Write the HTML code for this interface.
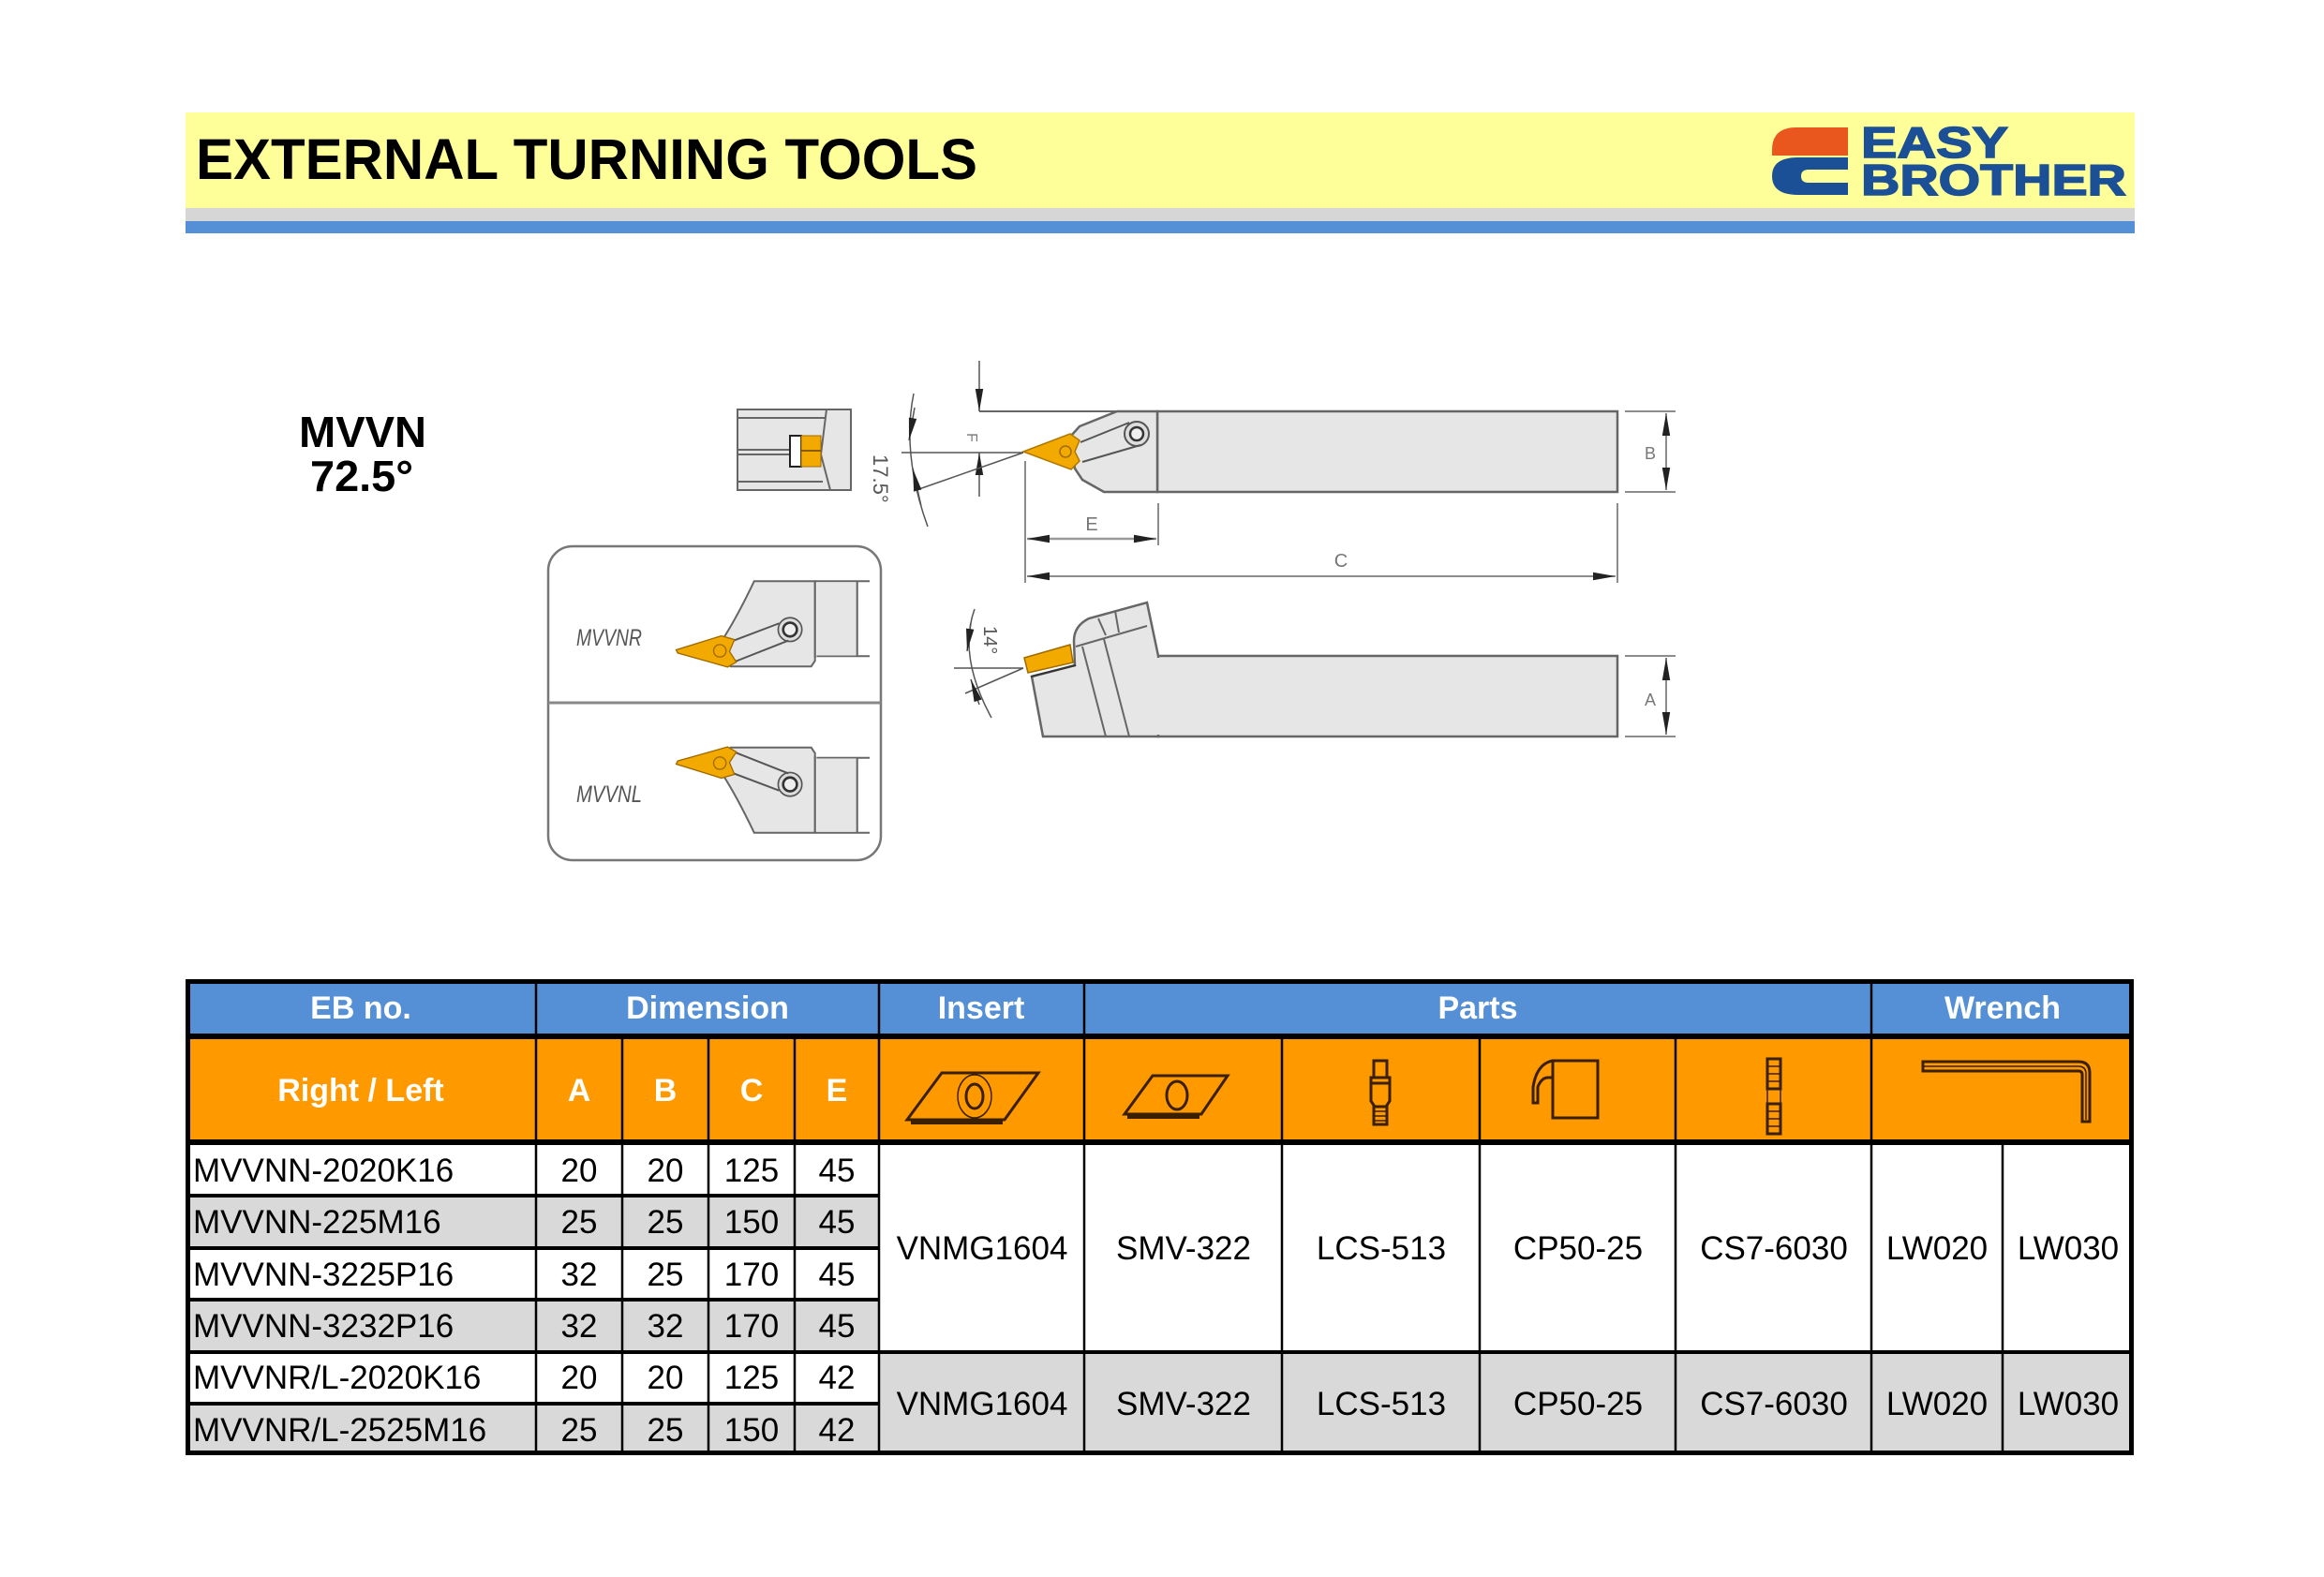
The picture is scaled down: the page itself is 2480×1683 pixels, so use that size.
<!DOCTYPE html>
<html><head><meta charset="utf-8"><style>
html,body{margin:0;padding:0;background:#fff}
svg{display:block}
text{font-family:"Liberation Sans",Arial,sans-serif}
</style></head><body>
<svg width="2480" height="1683" viewBox="0 0 2480 1683" xmlns="http://www.w3.org/2000/svg">
<defs>
<marker id="arL" viewBox="0 0 20 10" refX="20" refY="5" markerWidth="26" markerHeight="12" orient="auto-start-reverse" markerUnits="userSpaceOnUse"><path d="M0,1.5 L20,5 L0,8.5 Z" fill="#222"/></marker>
</defs>

<!-- Header -->
<rect x="198" y="120" width="2080" height="102" fill="#ffff99"/>
<rect x="198" y="222" width="2080" height="14" fill="#d6d6d6"/>
<rect x="198" y="236" width="2080" height="13" fill="#5590d6"/>
<text x="209" y="191" font-size="61" font-weight="bold" fill="#000" textLength="834" lengthAdjust="spacingAndGlyphs">EXTERNAL TURNING TOOLS</text>

<!-- Logo -->
<g transform="translate(-5,0)">
<path d="M1977,136 H1922 Q1896,136 1896,160 V166 H1977 Z" fill="#e9561e"/>
<path d="M1977,168 H1924 Q1896,168 1896,188 Q1896,208 1924,208 H1977 V195 H1935 Q1927,195 1927,188 Q1927,181 1935,181 H1977 Z" fill="#1b4f96"/>
<text x="1991" y="168" font-size="46" font-weight="bold" fill="#1b4f96" stroke="#1b4f96" stroke-width="1.5" textLength="157" lengthAdjust="spacingAndGlyphs">EASY</text>
<text x="1991" y="208" font-size="46" font-weight="bold" fill="#1b4f96" stroke="#1b4f96" stroke-width="1.5" textLength="283" lengthAdjust="spacingAndGlyphs">BROTHER</text>
</g>

<!-- MVVN label -->
<text x="387" y="477" font-size="46" font-weight="bold" text-anchor="middle" textLength="136" lengthAdjust="spacingAndGlyphs">MVVN</text>
<text x="386" y="524" font-size="46" font-weight="bold" text-anchor="middle" textLength="110" lengthAdjust="spacingAndGlyphs">72.5°</text>

<!-- End view -->
<g stroke="#666" stroke-width="2" fill="#e6e6e6">
<rect x="787" y="437" width="121" height="86"/>
<line x1="787" y1="446" x2="880" y2="446"/>
<line x1="787" y1="480" x2="843" y2="480"/>
<line x1="787" y1="485" x2="843" y2="485"/>
<line x1="787" y1="514" x2="878" y2="514"/>
<path d="M882,437 L876,485 L886,523" fill="none"/>
</g>
<rect x="843" y="465" width="12" height="33" fill="#fff" stroke="#222" stroke-width="2"/>
<rect x="855" y="465" width="21" height="33" fill="#f2a900" stroke="#a06a00" stroke-width="1"/>
<line x1="855" y1="481" x2="876" y2="481" stroke="#8a5a00" stroke-width="2"/>

<!-- Top tool -->
<g stroke="#666" stroke-width="2.5" fill="#e6e6e6">
<rect x="1235" y="439" width="491" height="86"/>
<path d="M1235,439 H1192 L1152,455 L1143,465 L1147,500 L1155,512 L1178,525 H1235 Z"/>
</g>
<line x1="1045" y1="439" x2="1235" y2="439" stroke="#666" stroke-width="2"/>
<circle cx="1213" cy="463" r="13" fill="#ddd" stroke="#555" stroke-width="2"/>
<circle cx="1213" cy="463" r="7" fill="#eee" stroke="#333" stroke-width="2.5"/>
<path d="M1153,472 L1205,451 M1155,493 L1217,475" stroke="#555" stroke-width="2" fill="none"/>
<path d="M1092,482 L1142,463 L1152,470 L1147,482 L1152,492 L1143,501 Z" fill="#f2a900" stroke="#b07800" stroke-width="1.5"/>
<circle cx="1137" cy="482" r="6" fill="none" stroke="#a06a00" stroke-width="1.5"/>

<!-- F dim -->
<g stroke="#555" stroke-width="1.5" fill="none">
<line x1="1045" y1="385" x2="1045" y2="439" marker-end="url(#arL)"/>
<line x1="1045" y1="530" x2="1045" y2="483" marker-end="url(#arL)"/>
<line x1="962" y1="483" x2="1092" y2="483"/>
<line x1="1092" y1="483" x2="975" y2="524"/>
<path d="M975,420 Q962,485 990,562"/>
<line x1="976" y1="435" x2="970" y2="470" marker-end="url(#arL)"/>
<line x1="974" y1="500" x2="983" y2="540" marker-start="url(#arL)"/>
</g>
<text x="1040" y="470" font-size="16" fill="#777" transform="rotate(90 1040 462)">F</text>
<text x="0" y="0" font-size="22" fill="#555" transform="translate(932,485) rotate(90)">17.5°</text>

<!-- E and C dims -->
<g stroke="#666" stroke-width="1.5" fill="none">
<line x1="1094" y1="492" x2="1094" y2="622"/>
<line x1="1236" y1="537" x2="1236" y2="582"/>
<line x1="1726" y1="537" x2="1726" y2="622"/>
<line x1="1096" y1="575" x2="1234" y2="575" marker-start="url(#arL)" marker-end="url(#arL)" stroke="#999" stroke-width="2.5"/>
<line x1="1096" y1="615" x2="1724" y2="615" marker-start="url(#arL)" marker-end="url(#arL)"/>
<line x1="1734" y1="439" x2="1788" y2="439"/>
<line x1="1734" y1="525" x2="1788" y2="525"/>
<line x1="1778" y1="441" x2="1778" y2="523" marker-start="url(#arL)" marker-end="url(#arL)"/>
<line x1="1734" y1="700" x2="1788" y2="700"/>
<line x1="1734" y1="786" x2="1788" y2="786"/>
<line x1="1778" y1="702" x2="1778" y2="784" marker-start="url(#arL)" marker-end="url(#arL)"/>
</g>
<text x="1165" y="566" font-size="20" fill="#777" text-anchor="middle">E</text>
<text x="1431" y="605" font-size="20" fill="#777" text-anchor="middle">C</text>
<text x="1761" y="490" font-size="18" fill="#777" text-anchor="middle">B</text>
<text x="1761" y="753" font-size="18" fill="#777" text-anchor="middle">A</text>

<!-- Bottom tool -->
<g stroke="#666" stroke-width="2.5" fill="#e6e6e6">
<rect x="1235" y="700" width="491" height="86"/>
<path d="M1113,786 H1236 V700 L1224,643 L1162,660 Q1146,668 1146,684 L1147,710 L1101,722 Z"/>
</g>
<rect x="1230" y="702" width="10" height="82" fill="#e6e6e6"/>
<g stroke="#666" stroke-width="2" fill="none">
<line x1="1155" y1="690" x2="1180" y2="786"/>
<line x1="1178" y1="682" x2="1205" y2="786"/>
<line x1="1148" y1="690" x2="1224" y2="668"/>
<line x1="1172" y1="660" x2="1180" y2="678"/>
<line x1="1190" y1="652" x2="1194" y2="675"/>
<line x1="1100" y1="722" x2="1148" y2="710" stroke="#333"/>
</g>
<path d="M1093,702 L1142,688 L1145,707 L1097,718 Z" fill="#f2a900" stroke="#a06a00" stroke-width="1.5"/>
<g stroke="#555" stroke-width="1.5" fill="none">
<line x1="1018" y1="713" x2="1092" y2="713"/>
<line x1="1092" y1="713" x2="1030" y2="740"/>
<path d="M1040,650 Q1022,700 1058,766"/>
<line x1="1036" y1="665" x2="1032" y2="695" marker-end="url(#arL)"/>
<line x1="1036" y1="725" x2="1045" y2="752" marker-start="url(#arL)"/>
</g>
<text x="0" y="0" font-size="20" fill="#555" transform="translate(1050,668) rotate(90)">14°</text>

<!-- Rounded box with R/L -->
<rect x="585" y="583" width="355" height="335" rx="26" fill="#fff" stroke="#777" stroke-width="2.5"/>
<line x1="585" y1="750" x2="940" y2="750" stroke="#888" stroke-width="3"/>
<g transform="translate(580,582) scale(0.333)">
 <g id="rtool">
  <path d="M675,115 H870 V370 L858,388 H600 L580,370 L575,300 Q620,230 675,115 Z" fill="#e6e6e6" stroke="#666" stroke-width="6"/>
  <path d="M870,115 H1045 M1045,355 H875 M870,115 V360 M1005,115 V355" stroke="#666" stroke-width="6" fill="none"/>
  <rect x="875" y="118" width="130" height="235" fill="#e6e6e6"/>
  <line x1="1005" y1="115" x2="1005" y2="355" stroke="#666" stroke-width="6"/>
  <circle cx="790" cy="270" r="38" fill="#ddd" stroke="#555" stroke-width="5"/>
  <circle cx="790" cy="270" r="22" fill="#eee" stroke="#333" stroke-width="8"/>
  <path d="M610,305 L755,250 M615,372 L785,305" stroke="#555" stroke-width="6" fill="none"/>
  <path d="M425,335 L570,290 L612,302 L596,340 L618,374 L590,390 L430,345 Z" fill="#f2a900" stroke="#a06a00" stroke-width="4"/>
  <circle cx="565" cy="338" r="20" fill="none" stroke="#a06a00" stroke-width="4"/>
 </g>
 <use href="#rtool" transform="translate(0,1036) scale(1,-1)"/>
</g>
<text x="615" y="689" font-size="25" font-style="italic" fill="#555" textLength="70" lengthAdjust="spacingAndGlyphs">MVVNR</text>
<text x="615" y="856" font-size="25" font-style="italic" fill="#555" textLength="70" lengthAdjust="spacingAndGlyphs">MVVNL</text>

<!-- TABLE -->
<rect x="198" y="1045" width="2079" height="59" fill="#5590d6"/>
<rect x="198" y="1108" width="2079" height="108" fill="#ff9900"/>
<rect x="198" y="1222" width="740" height="331" fill="#fff"/>
<rect x="198" y="1276" width="740" height="56" fill="#d9d9d9"/>
<rect x="198" y="1387" width="740" height="56" fill="#d9d9d9"/>
<rect x="198" y="1498" width="740" height="55" fill="#d9d9d9"/>
<rect x="938" y="1222" width="1339" height="221" fill="#fff"/>
<rect x="938" y="1443" width="1339" height="110" fill="#d9d9d9"/>

<g stroke="#000" fill="none">
<line x1="198" y1="1106" x2="2277" y2="1106" stroke-width="6"/>
<line x1="198" y1="1219" x2="2277" y2="1219" stroke-width="6"/>
<line x1="198" y1="1276" x2="938" y2="1276" stroke-width="4"/>
<line x1="198" y1="1332" x2="938" y2="1332" stroke-width="4"/>
<line x1="198" y1="1387" x2="938" y2="1387" stroke-width="4"/>
<line x1="198" y1="1443" x2="2277" y2="1443" stroke-width="4"/>
<line x1="198" y1="1498" x2="938" y2="1498" stroke-width="4"/>
<line x1="572" y1="1045" x2="572" y2="1553" stroke-width="2.5"/>
<line x1="664" y1="1106" x2="664" y2="1553" stroke-width="2.5"/>
<line x1="756" y1="1106" x2="756" y2="1553" stroke-width="2.5"/>
<line x1="848" y1="1106" x2="848" y2="1553" stroke-width="2.5"/>
<line x1="938" y1="1045" x2="938" y2="1553" stroke-width="2.5"/>
<line x1="1157" y1="1045" x2="1157" y2="1553" stroke-width="2.5"/>
<line x1="1368" y1="1106" x2="1368" y2="1553" stroke-width="2.5"/>
<line x1="1579" y1="1106" x2="1579" y2="1553" stroke-width="2.5"/>
<line x1="1788" y1="1106" x2="1788" y2="1553" stroke-width="2.5"/>
<line x1="1997" y1="1045" x2="1997" y2="1553" stroke-width="2.5"/>
<line x1="2137" y1="1219" x2="2137" y2="1553" stroke-width="2.5"/>
<rect x="200.5" y="1047.5" width="2074" height="503" stroke-width="5"/>
</g>

<g font-size="34" font-weight="bold" fill="#fff" text-anchor="middle">
<text x="385" y="1087">EB no.</text>
<text x="755" y="1087">Dimension</text>
<text x="1047" y="1087">Insert</text>
<text x="1577" y="1087">Parts</text>
<text x="2137" y="1087">Wrench</text>
<text x="385" y="1175">Right / Left</text>
<text x="618" y="1175">A</text>
<text x="710" y="1175">B</text>
<text x="802" y="1175">C</text>
<text x="893" y="1175">E</text>
</g>

<!-- Icons -->
<g stroke="#3a2000" stroke-width="3" fill="none">
<path d="M968,1195 L1005,1145 H1108 L1072,1195 Z"/>
<path d="M972,1198 H1070" stroke-width="4"/>
<ellipse cx="1040" cy="1170" rx="9" ry="13"/>
<ellipse cx="1040" cy="1170" rx="18" ry="23" stroke-width="1.5"/>
<path d="M1200,1189 L1230,1148 H1310 L1282,1189 Z"/>
<path d="M1203,1192 H1280" stroke-width="4"/>
<ellipse cx="1256" cy="1169" rx="11" ry="15"/>
<rect x="1466" y="1132" width="14" height="18"/>
<rect x="1463" y="1150" width="20" height="6"/>
<path d="M1463,1156 V1175 L1467,1181 H1479 L1483,1175 V1156"/>
<rect x="1466" y="1181" width="14" height="19"/>
<path d="M1467,1186 H1479 M1467,1191 H1479 M1467,1196 H1479" stroke-width="1.5"/>
<path d="M1657,1193 V1132 H1705 V1193 Z"/>
<path d="M1657,1132 Q1640,1135 1636,1160 V1177 H1641 V1160 Q1645,1150 1652,1150 H1657"/>
<rect x="1886" y="1130" width="14" height="32"/>
<rect x="1886" y="1162" width="14" height="16" stroke-width="1.5"/>
<rect x="1886" y="1178" width="14" height="32"/>
<path d="M1887,1138 H1899 M1887,1146 H1899 M1887,1154 H1899 M1887,1186 H1899 M1887,1194 H1899 M1887,1202 H1899" stroke-width="1.5"/>
<path d="M2052,1133 H2218 Q2230,1133 2230,1145 V1197 H2222 V1147 Q2222,1143 2218,1143 H2052 Z"/>
<path d="M2052,1138 H2218 Q2226,1138 2226,1146 V1195" stroke-width="1.5"/>
</g>

<!-- data -->
<g font-size="35" fill="#000">
<text x="206" y="1261">MVVNN-2020K16</text>
<text x="206" y="1316">MVVNN-225M16</text>
<text x="206" y="1372">MVVNN-3225P16</text>
<text x="206" y="1427">MVVNN-3232P16</text>
<text x="206" y="1482">MVVNR/L-2020K16</text>
<text x="206" y="1538">MVVNR/L-2525M16</text>
</g>
<g font-size="35" fill="#000" text-anchor="middle">
<text x="618" y="1261">20</text><text x="710" y="1261">20</text><text x="802" y="1261">125</text><text x="893" y="1261">45</text>
<text x="618" y="1316">25</text><text x="710" y="1316">25</text><text x="802" y="1316">150</text><text x="893" y="1316">45</text>
<text x="618" y="1372">32</text><text x="710" y="1372">25</text><text x="802" y="1372">170</text><text x="893" y="1372">45</text>
<text x="618" y="1427">32</text><text x="710" y="1427">32</text><text x="802" y="1427">170</text><text x="893" y="1427">45</text>
<text x="618" y="1482">20</text><text x="710" y="1482">20</text><text x="802" y="1482">125</text><text x="893" y="1482">42</text>
<text x="618" y="1538">25</text><text x="710" y="1538">25</text><text x="802" y="1538">150</text><text x="893" y="1538">42</text>
<text x="1048" y="1344">VNMG1604</text><text x="1263" y="1344">SMV-322</text><text x="1474" y="1344">LCS-513</text><text x="1684" y="1344">CP50-25</text><text x="1893" y="1344">CS7-6030</text><text x="2067" y="1344">LW020</text><text x="2207" y="1344">LW030</text>
<text x="1048" y="1510">VNMG1604</text><text x="1263" y="1510">SMV-322</text><text x="1474" y="1510">LCS-513</text><text x="1684" y="1510">CP50-25</text><text x="1893" y="1510">CS7-6030</text><text x="2067" y="1510">LW020</text><text x="2207" y="1510">LW030</text>
</g>
</svg>
</body></html>
